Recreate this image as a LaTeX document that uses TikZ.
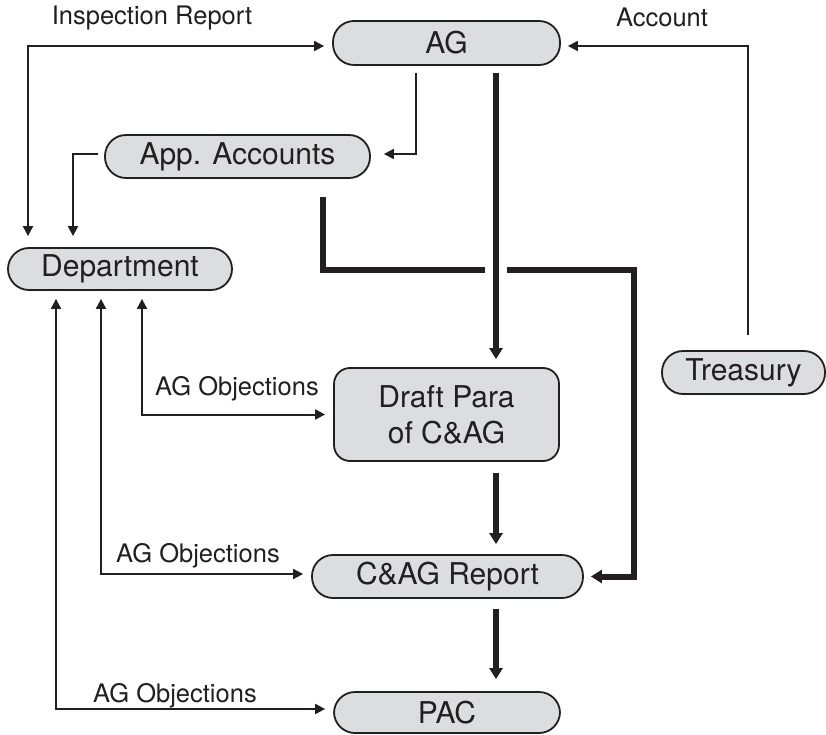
\documentclass[tikz,border=0pt]{standalone}
\usepackage{fontspec}
\setmainfont{TeX Gyre Heros}
\usetikzlibrary{arrows.meta}
\definecolor{ink}{HTML}{231F20}
\definecolor{boxfill}{HTML}{DCDDDF}
\begin{document}
\begin{tikzpicture}[x=1pt,y=-1pt,
  pill/.style={draw=ink,fill=boxfill,line width=1.8pt,rounded corners=21pt,inner sep=0pt,
     font=\fontsize{30}{34}\selectfont,text=ink},
  lbl/.style={font=\fontsize{25.5}{30}\selectfont,text=ink,inner sep=0pt},
  thin/.style={draw=ink,line width=2pt,-{Triangle[length=10pt,width=10pt]}},
  thinboth/.style={draw=ink,line width=2pt,{Triangle[length=10pt,width=10pt]}-{Triangle[length=10pt,width=10pt]}},
  fat/.style={draw=ink,line width=6pt,-{Triangle[length=11pt,width=13pt]}}]
\useasboundingbox (0,0) rectangle (826,735);
% nodes
\node[pill,minimum width=227pt,minimum height=44pt] (ag) at (446.5,43) {AG};
\node[pill,minimum width=265pt,minimum height=43pt] (app) at (237.5,156.5) {App. Accounts};
\node[pill,minimum width=224pt,minimum height=42pt] (dept) at (120,269) {Department};
\node[pill,rounded corners=16pt,minimum width=225pt,minimum height=93pt,align=center,
      font=\fontsize{30}{36}\selectfont] (draft) at (446.5,414.5) {Draft Para\\of C\&AG};
\node[pill,minimum width=271pt,minimum height=43pt] (cag) at (447.5,576.5) {C\&AG Report};
\node[pill,minimum width=226pt,minimum height=41pt] (pac) at (447,712.5) {PAC};
\node[pill,minimum width=163pt,minimum height=43pt] (tre) at (743.5,372.5) {Treasury};
% labels
\node[lbl] (l1) at (152,18) {Inspection Report};
\node[lbl] (l2) at (662,17) {Account};
\node[lbl] (l3) at (237,389) {AG Objections};
\node[lbl] (l4) at (198,556) {AG Objections};
\node[lbl] (l5) at (175,696) {AG Objections};
% coordinates
\coordinate (xir) at (28,0);
\coordinate (xapp) at (73,0);
\coordinate (xo1) at (142,0);
\coordinate (xo2) at (101,0);
\coordinate (xo3) at (56,0);
\coordinate (bend) at (634,270);
% thin connectors
\draw[thinboth,shorten <=11pt,shorten >=8pt] (xir |- dept.north) |- ([yshift=-3pt]ag.west);
\draw[thin,shorten <=15pt,shorten >=7pt] ([xshift=4.5pt]tre.north) |- ([yshift=-3pt]ag.east);
\draw[thin,shorten <=7pt,shorten >=13pt] ([xshift=-30.5pt]ag.south) |- ([yshift=2.5pt]app.east);
\draw[thin,shorten <=6pt,shorten >=11pt] ([yshift=2.5pt]app.west) -| (xapp |- dept.north);
\draw[thinboth,shorten <=8pt,shorten >=8pt] (draft.west) -| (xo1 |- dept.south);
\draw[thinboth,shorten <=8pt,shorten >=8pt] ([yshift=2.5pt]cag.west) -| (xo2 |- dept.south);
\draw[thinboth,shorten <=8pt,shorten >=8pt] ([yshift=3.5pt]pac.west) -| (xo3 |- dept.south);
% thick connectors
\draw[fat,shorten <=18pt,shorten >=7pt] ([xshift=85.5pt]app.south) |- (bend) |- (cag.east);
\fill[white] (485,262) rectangle (507,278);
\draw[fat,shorten <=7pt,shorten >=8pt] ([xshift=49.5pt]ag.south) -- ([xshift=49.5pt]draft.north);
\draw[fat,shorten <=11pt,shorten >=10pt] ([xshift=49.5pt]draft.south) -- ([xshift=49.5pt]draft.south |- cag.north);
\draw[fat,shorten <=10pt,shorten >=12pt] ([xshift=48.5pt]cag.south) -- ([xshift=48.5pt]cag.south |- pac.north);
\end{tikzpicture}
\end{document}
